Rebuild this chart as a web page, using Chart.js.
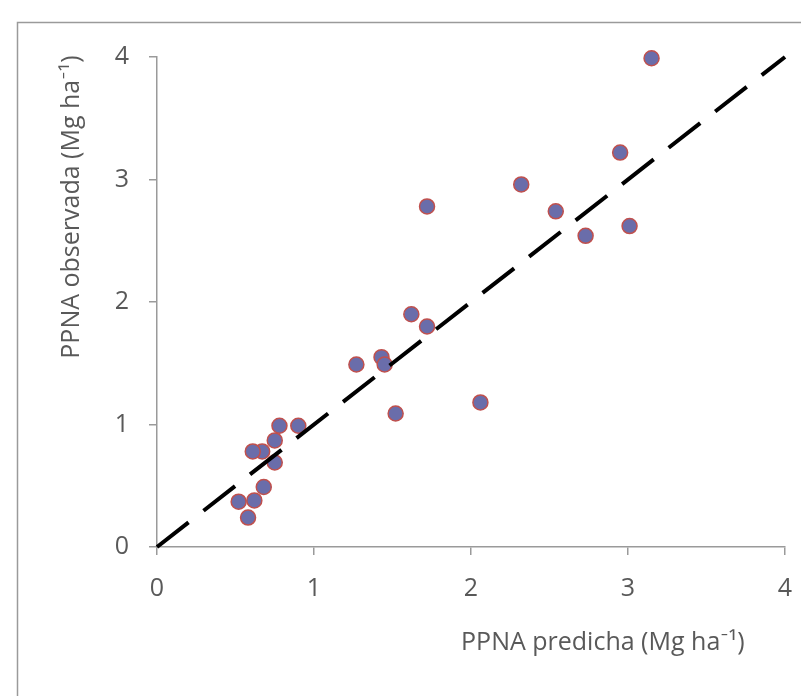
<!DOCTYPE html>
<html>
<head>
<meta charset="utf-8">
<script src="https://cdn.jsdelivr.net/npm/chart.js@4/dist/chart.umd.min.js"></script>
<style>
  html, body { margin: 0; padding: 0; background: #ffffff; }
  #wrap { width: 801px; height: 696px; position: relative; }
</style>
</head>
<body>
<div id="wrap"><canvas id="c" width="801" height="696"></canvas></div>
<script>
// Data
const predicted = [3.15, 2.95, 2.32, 1.72, 2.54, 2.73, 3.01, 1.62, 1.72, 1.27, 1.43, 1.45, 1.52, 2.06,
                   0.90, 0.78, 0.75, 0.67, 0.61, 0.75, 0.68, 0.62, 0.52, 0.58];
const observed  = [3.99, 3.22, 2.96, 2.78, 2.74, 2.54, 2.62, 1.90, 1.80, 1.49, 1.55, 1.49, 1.09, 1.18,
                   0.99, 0.99, 0.87, 0.78, 0.78, 0.69, 0.49, 0.38, 0.37, 0.24];
const lineX = [0, 4];
const lineY = [0, 4];
const tickValues = [0, 1, 2, 3, 4];
const xTitle = 'PPNA predicha (Mg ha\u207B\u00B9)';
const yTitle = 'PPNA observada (Mg ha\u207B\u00B9)';

const points = predicted.map((x, i) => ({ x: x, y: observed[i] }));
const linePts = lineX.map((x, i) => ({ x: x, y: lineY[i] }));

const FONT = '"Open Sans", Lato, sans-serif';

const framePlugin = {
  id: 'frame',
  beforeDraw(chart) {
    const ctx = chart.ctx;
    ctx.save();
    ctx.fillStyle = '#ffffff';
    ctx.fillRect(0, 0, chart.width, chart.height);
    ctx.strokeStyle = '#9a9a9a';
    ctx.lineWidth = 1.5;
    ctx.strokeRect(17.5, 22.5, chart.width + 10, chart.height + 10);
    ctx.restore();
  },
  afterDraw(chart) {
    const ctx = chart.ctx;
    const a = chart.chartArea;
    ctx.save();
    ctx.fillStyle = '#595959';
    ctx.font = '25px ' + FONT;
    ctx.textAlign = 'center';
    ctx.textBaseline = 'middle';
    // x title
    ctx.fillText(xTitle, a.left + (a.right - a.left) * 0.71, a.bottom + 96);
    // y title
    ctx.translate(a.left - 85, a.top + 150);
    ctx.rotate(-Math.PI / 2);
    ctx.fillText(yTitle, 0, 0);
    ctx.restore();
  }
};

new Chart(document.getElementById('c'), {
  type: 'scatter',
  data: {
    datasets: [
      {
        label: 'observada',
        data: points,
        backgroundColor: '#6A6DAA',
        borderColor: '#C0504D',
        borderWidth: 1.5,
        pointRadius: 7.5,
        pointHoverRadius: 7.5,
        clip: false,
        order: 1
      },
      {
        type: 'line',
        label: '1:1',
        data: linePts,
        borderColor: '#000000',
        borderWidth: 4,
        borderDash: [40, 19],
        borderCapStyle: 'butt',
        pointRadius: 0,
        fill: false,
        clip: false,
        order: 0
      }
    ]
  },
  options: {
    responsive: false,
    animation: false,
    devicePixelRatio: 1,
    layout: { padding: { left: 0, top: 57, right: 16, bottom: 0 } },
    plugins: { legend: { display: false }, tooltip: { enabled: false } },
    scales: {
      x: {
        type: 'linear',
        min: 0, max: 4,
        afterBuildTicks(scale) { scale.ticks = tickValues.map(v => ({ value: v })); },
        afterFit(scale) { scale.height = 149; scale.paddingLeft = 0; scale.paddingRight = 0; },
        border: { display: true, color: '#9a9a9a', width: 1.5 },
        grid: { display: true, drawOnChartArea: false, drawTicks: true, tickLength: 8, color: '#9a9a9a', lineWidth: 1.5 },
        ticks: { color: '#595959', font: { family: FONT, size: 25 }, padding: 19, maxRotation: 0 }
      },
      y: {
        type: 'linear',
        min: 0, max: 4,
        afterBuildTicks(scale) { scale.ticks = tickValues.map(v => ({ value: v })); },
        afterFit(scale) { scale.width = 157; scale.paddingTop = 0; scale.paddingBottom = 0; },
        border: { display: true, color: '#9a9a9a', width: 1.5 },
        grid: { display: true, drawOnChartArea: false, drawTicks: true, tickLength: 8, color: '#9a9a9a', lineWidth: 1.5 },
        ticks: { color: '#595959', font: { family: FONT, size: 25 }, padding: 20 }
      }
    }
  },
  plugins: [framePlugin]
});
</script>
</body>
</html>
